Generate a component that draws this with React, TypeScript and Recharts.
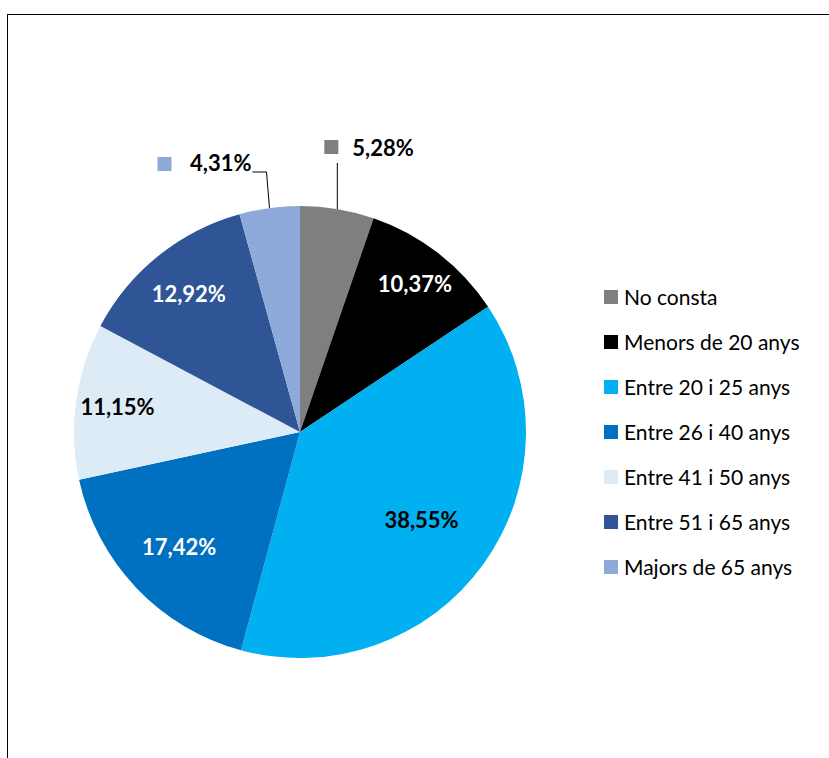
import React from "react";
import { PieChart, Pie, Cell } from "recharts";

const categories = [
  "No consta",
  "Menors de 20 anys",
  "Entre 20 i 25 anys",
  "Entre 26 i 40 anys",
  "Entre 41 i 50 anys",
  "Entre 51 i 65 anys",
  "Majors de 65 anys",
];
const shares = [5.28, 10.37, 38.55, 17.42, 11.15, 12.92, 4.31];
const colors = ["#7f7f7f", "#000000", "#00b0f0", "#0070c0", "#ddebf7", "#2f5597", "#8eaadb"];
const labelColors = ["#000", "#fff", "#000", "#fff", "#000", "#fff", "#000"];

const data = categories.map((name, i) => ({ name, value: shares[i] }));

const RADIAN = Math.PI / 180;
const FONT = "Lato, 'Open Sans', sans-serif";

const fmt = (v: number) => v.toFixed(2).replace(".", ",") + "%";

function renderLabel(props: any) {
  const { cx, cy, midAngle, outerRadius, index, value } = props;
  const cos = Math.cos(-midAngle * RADIAN);
  const sin = Math.sin(-midAngle * RADIAN);
  if (value < 6) {
    // small slices: label outside with a leader line
    const ex = cx + outerRadius * cos;
    const ey = cy + outerRadius * sin;
    if (ex >= cx) {
      const topY = cy - outerRadius - 43;
      return (
        <g key={`lbl-${index}`}>
          <line x1={ex} y1={ey} x2={ex} y2={topY} stroke="#000" strokeWidth={1} />
          <rect x={ex - 13} y={topY - 23} width={14} height={14} fill={colors[index]} />
          <text x={ex + 15} y={topY - 7} fill="#000" fontSize={22} fontWeight={700} fontFamily={FONT}>
            {fmt(value)}
          </text>
        </g>
      );
    }
    const topY = cy - outerRadius - 34;
    const lx = ex - 3;
    return (
      <g key={`lbl-${index}`}>
        <polyline
          points={`${ex},${ey} ${lx},${topY} ${lx - 14},${topY}`}
          fill="none"
          stroke="#000"
          strokeWidth={1}
        />
        <text x={lx - 15} y={topY - 1} textAnchor="end" fill="#000" fontSize={22} fontWeight={700} fontFamily={FONT}>
          {fmt(value)}
        </text>
        <rect x={lx - 109} y={topY - 15} width={14} height={14} fill={colors[index]} />
      </g>
    );
  }
  // bigger slices get their label nearer the centre
  const r = outerRadius * (0.6 + 2.4 / value);
  const x = cx + r * cos;
  const y = cy + r * sin;
  return (
    <text
      key={`lbl-${index}`}
      x={x}
      y={y}
      fill={labelColors[index]}
      textAnchor="middle"
      dominantBaseline="central"
      fontSize={22}
      fontWeight={700}
      fontFamily={FONT}
    >
      {fmt(value)}
    </text>
  );
}

export default function App() {
  return (
    <div style={{ position: "absolute", left: 0, top: 0, width: 829, height: 758, overflow: "hidden", background: "#fff" }}>
      <div
        style={{
          position: "absolute",
          left: 7,
          top: 14,
          width: 900,
          height: 900,
          borderLeft: "1px solid #000",
          borderTop: "1px solid #000",
        }}
      />
      <div style={{ position: "absolute", left: 0, top: 0 }}>
        <PieChart width={829} height={758} margin={{ top: 0, right: 0, bottom: 0, left: 0 }}>
          <Pie
            data={data}
            dataKey="value"
            nameKey="name"
            cx={300}
            cy={432}
            outerRadius={226}
            startAngle={90}
            endAngle={-270}
            stroke="none"
            label={renderLabel}
            labelLine={false}
            isAnimationActive={false}
          >
            {data.map((entry, index) => (
              <Cell key={`cell-${index}`} fill={colors[index]} />
            ))}
          </Pie>
        </PieChart>
      </div>
      <div style={{ position: "absolute", left: 604, top: 274, fontFamily: FONT, fontSize: 21, color: "#000" }}>
        {categories.map((name, i) => (
          <div key={name} style={{ display: "flex", alignItems: "center", height: 45, whiteSpace: "nowrap" }}>
            <span style={{ width: 14, height: 14, background: colors[i], marginRight: 6, display: "inline-block", flexShrink: 0 }} />
            <span>{name}</span>
          </div>
        ))}
      </div>
    </div>
  );
}
